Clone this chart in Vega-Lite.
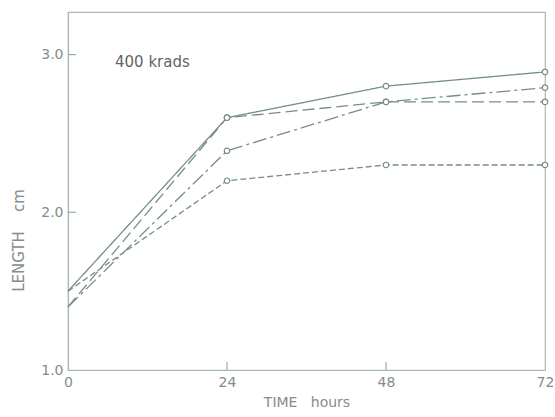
{
  "$schema": "https://vega.github.io/schema/vega-lite/v6.json",
  "width": 477,
  "height": 358,
  "autosize": {"type": "none"},
  "padding": {"left": 68, "top": 12, "right": 10, "bottom": 47},
  "background": "white",
  "config": {
    "font": "DejaVu Sans",
    "view": {"stroke": "#a8bcae", "strokeWidth": 1.2},
    "axis": {
      "grid": false,
      "domainColor": "#a8bcae",
      "domainWidth": 1.2,
      "ticks": false,
      "labelColor": "#858d88",
      "labelFontSize": 14,
      "labelFont": "DejaVu Sans",
      "titleColor": "#858d88",
      "titleFont": "DejaVu Sans",
      "titleFontSize": 14,
      "titleFontWeight": "normal"
    }
  },
  "datasets": {
    "lines": [
      {"series": "solid", "t": 0, "v": 1.5},
      {"series": "solid", "t": 24, "v": 2.6},
      {"series": "solid", "t": 48, "v": 2.8},
      {"series": "solid", "t": 72, "v": 2.89},
      {"series": "longdash", "t": 0, "v": 1.4},
      {"series": "longdash", "t": 24, "v": 2.6},
      {"series": "longdash", "t": 48, "v": 2.7},
      {"series": "longdash", "t": 72, "v": 2.7},
      {"series": "dashdot", "t": 0, "v": 1.4},
      {"series": "dashdot", "t": 24, "v": 2.39},
      {"series": "dashdot", "t": 48, "v": 2.7},
      {"series": "dashdot", "t": 72, "v": 2.79},
      {"series": "shortdash", "t": 0, "v": 1.5},
      {"series": "shortdash", "t": 24, "v": 2.2},
      {"series": "shortdash", "t": 48, "v": 2.3},
      {"series": "shortdash", "t": 72, "v": 2.3}
    ],
    "xticks": [{"t": 24}, {"t": 48}],
    "yticks": [{"v": 2}, {"v": 3}],
    "note": [{"t": 7.1, "v": 2.95, "label": "400 krads"}]
  },
  "layer": [
    {
      "data": {"name": "lines"},
      "mark": {"type": "line", "strokeWidth": 1.3, "color": "#758f80"},
      "encoding": {
        "x": {"field": "t", "type": "quantitative", "scale": {"domain": [0, 72], "nice": false},
              "axis": {"values": [0, 24, 48, 72], "labelFlush": false, "labelPadding": 5, "title": "TIME\u00a0\u00a0\u00a0hours", "titlePadding": 6}},
        "y": {"field": "v", "type": "quantitative", "scale": {"domain": [1, 3.27], "nice": false, "zero": false},
              "axis": {"values": [1, 2, 3], "format": ".1f", "labelPadding": 5, "title": "LENGTH\u00a0\u00a0\u00a0\u00a0cm", "titleFontSize": 15, "titleX": -50, "titleY": 228, "titleAlign": "center", "titleBaseline": "middle", "titleAngle": -90}},
        "strokeDash": {"field": "series", "type": "nominal",
                       "scale": {"domain": ["solid", "longdash", "dashdot", "shortdash"], "range": [[1, 0], [12, 5], [14, 4, 3, 4], [6, 3]]},
                       "legend": null}
      }
    },
    {
      "data": {"name": "lines"},
      "transform": [{"filter": "datum.t > 0"}],
      "mark": {"type": "point", "filled": true, "fill": "white", "stroke": "#758f80", "strokeWidth": 1.2, "size": 30, "opacity": 1},
      "encoding": {
        "x": {"field": "t", "type": "quantitative"},
        "y": {"field": "v", "type": "quantitative"},
        "detail": {"field": "series"}
      }
    },
    {
      "data": {"name": "xticks"},
      "mark": {"type": "tick", "orient": "vertical", "size": 8, "thickness": 1.2, "yOffset": -4, "color": "#98ac9f", "opacity": 1},
      "encoding": {
        "x": {"field": "t", "type": "quantitative"},
        "y": {"datum": 1}
      }
    },
    {
      "data": {"name": "yticks"},
      "mark": {"type": "tick", "orient": "horizontal", "size": 8, "thickness": 1.2, "xOffset": 4, "color": "#98ac9f", "opacity": 1},
      "encoding": {
        "y": {"field": "v", "type": "quantitative"},
        "x": {"datum": 0}
      }
    },
    {
      "data": {"name": "note"},
      "mark": {"type": "text", "align": "left", "baseline": "middle", "fontSize": 15, "color": "#5f6662", "font": "DejaVu Sans"},
      "encoding": {
        "x": {"field": "t", "type": "quantitative"},
        "y": {"field": "v", "type": "quantitative"},
        "text": {"field": "label"}
      }
    }
  ]
}
